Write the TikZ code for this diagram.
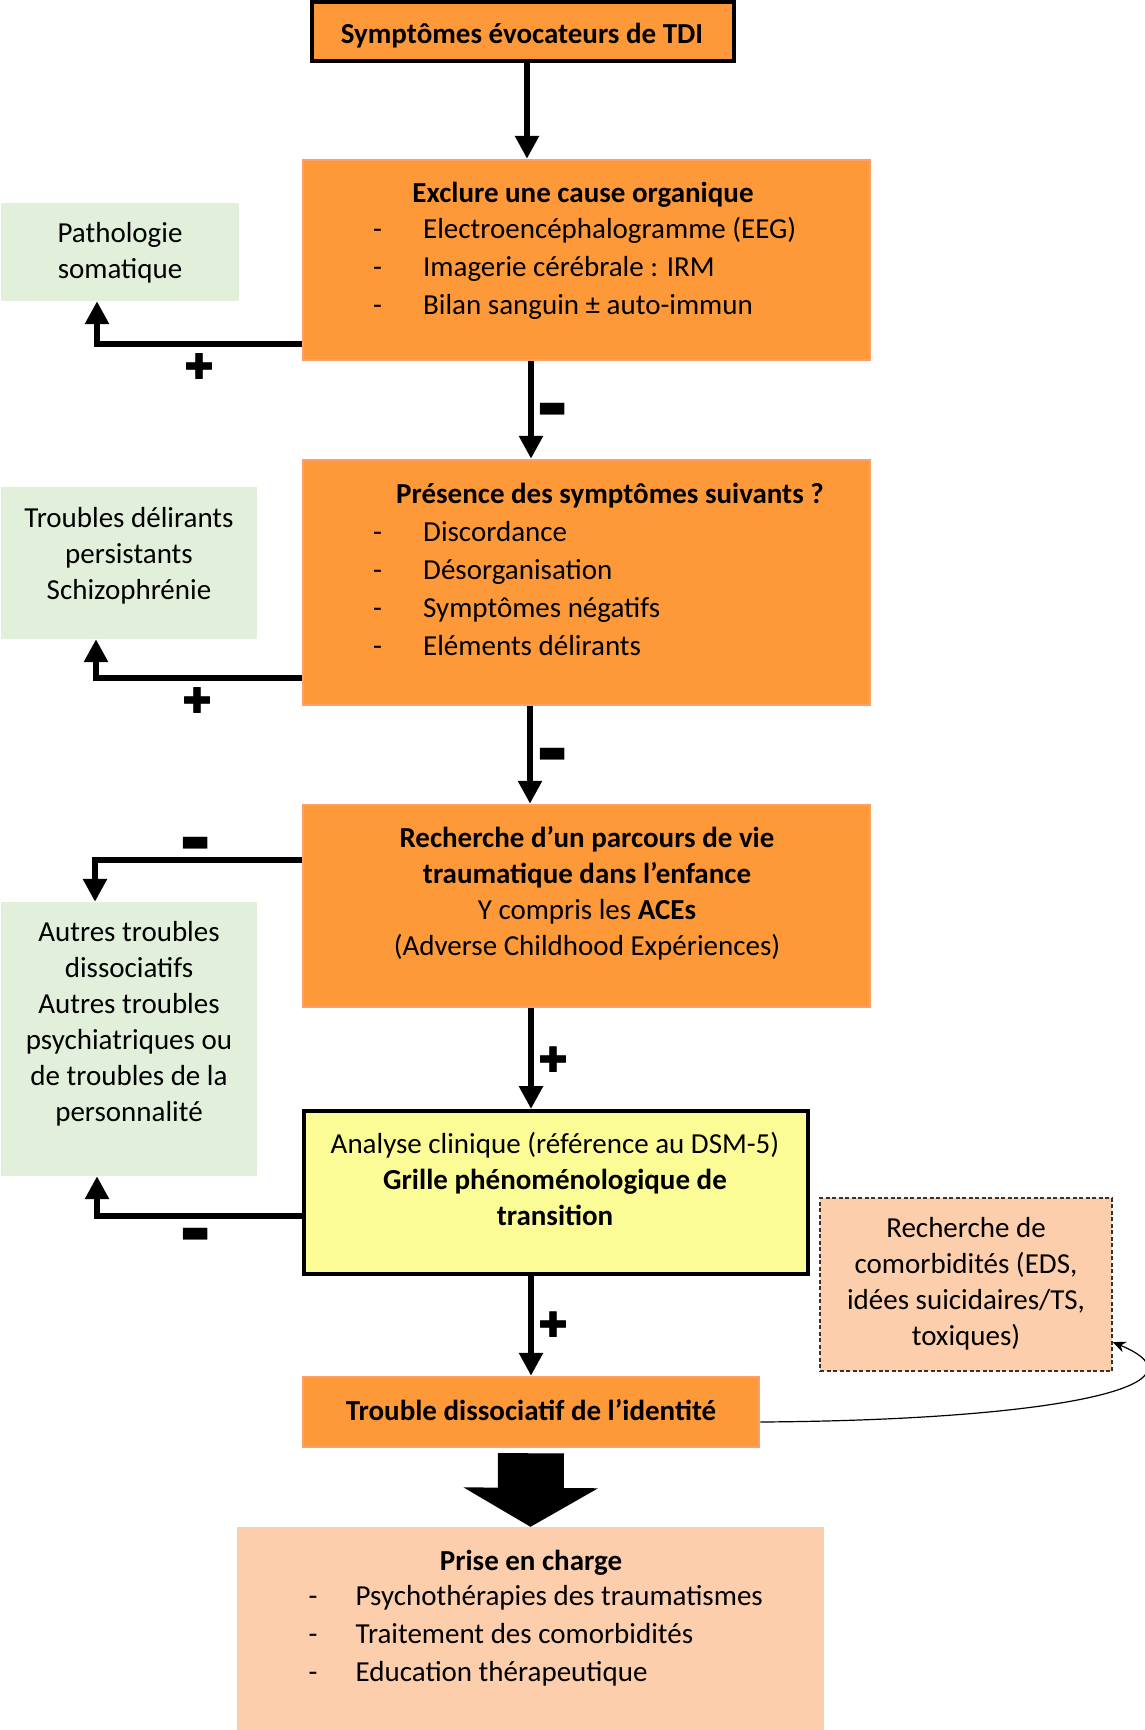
\documentclass[tikz,border=0pt]{standalone}
\usepackage{fontspec}
\setmainfont{Carlito}
\newfontfamily\djv{DejaVu Sans}
\newfontfamily\djvb[FakeBold=2.2]{DejaVu Sans}
\usetikzlibrary{arrows.meta}
\definecolor{orfill}{RGB}{253,153,57}
\definecolor{orline}{RGB}{250,160,110}
\definecolor{grfill}{RGB}{226,239,218}
\definecolor{pefill}{RGB}{252,206,171}
\definecolor{yefill}{RGB}{252,252,150}
\newcommand{\itm}[1]{\makebox[50pt][l]{-}#1}
\newcommand{\itmb}[1]{\makebox[47pt][l]{-}#1}
\tikzset{
  box/.style={rectangle, inner sep=0pt},
  orbox/.style={box, fill=orfill, draw=orline, line width=2.5pt},
  grbox/.style={box, fill=grfill},
  txt/.style={inner sep=0pt, align=center, font=\fontsize{29}{36}\selectfont},
  btxt/.style={inner sep=0pt, align=center, font=\bfseries\fontsize{29}{36}\selectfont},
  ltxt/.style={inner sep=0pt, align=left, font=\fontsize{29}{38}\selectfont},
  arr/.style={line width=6pt, -{Triangle[length=23pt,width=23pt]}},
  plussgn/.style={inner sep=0pt, font=\djvb\fontsize{34}{34}\selectfont},
  minussgn/.style={inner sep=0pt, font=\djv\fontsize{32}{32}\selectfont},
}
\begin{document}
\begin{tikzpicture}[x=1pt,y=-1pt]
\useasboundingbox (0,0) rectangle (1144,1730);
\fill[white] (0,0) rectangle (1144,1730);
% boxes
\node[box, fill=orfill, draw=black, line width=4pt, minimum width=422pt, minimum height=59pt] (top) at (523,31.5) {};
\node[orbox, minimum width=567pt, minimum height=200pt] (exc) at (586.5,260) {};
\node[grbox, minimum width=238pt, minimum height=98pt] (path) at (120,252) {};
\node[orbox, minimum width=567pt, minimum height=245pt] (pres) at (586.5,582.5) {};
\node[grbox, minimum width=256pt, minimum height=152pt] (trd) at (129,563) {};
\node[orbox, minimum width=567pt, minimum height=202pt] (rech) at (586.5,906) {};
\node[grbox, minimum width=256pt, minimum height=274pt] (autres) at (129,1039) {};
\node[box, fill=yefill, draw=black, line width=4pt, minimum width=504pt, minimum height=163pt] (ana) at (556,1192.5) {};
\node[orbox, minimum width=456pt, minimum height=70pt] (tdi) at (531,1412) {};
\node[box, fill=pefill, draw=black!80, line width=1.3pt, dash pattern=on 4pt off 2.5pt, minimum width=292pt, minimum height=173pt] (como) at (966,1284.5) {};
\node[box, fill=pefill, minimum width=587pt, minimum height=203pt] (pec) at (530.5,1628.5) {};
% texts
\node[btxt] (ttop) at (522,35.5) {Symptômes évocateurs de TDI};
\node[btxt] (texc) at (583,194.5) {Exclure une cause organique};
\node[ltxt, anchor=west] (lexc) at (373,268) {\itm{Electroencéphalogramme (EEG)}\\\itm{Imagerie cérébrale : IRM}\\\itm{Bilan sanguin ± auto-immun}};
\node[txt] (tpath) at (120,252.5) {Pathologie\\somatique};
\node[btxt] (tpres) at (610,495.5) {Présence des symptômes suivants ?};
\node[ltxt, anchor=west] (lpres) at (373,589) {\itm{Discordance}\\\itm{Désorganisation}\\\itm{Symptômes négatifs}\\\itm{Eléments délirants}};
\node[txt] (ttrd) at (129,555.5) {Troubles délirants\\persistants\\Schizophrénie};
\node[txt] (trech) at (587,893.5) {\textbf{Recherche d’un parcours de vie}\\\textbf{traumatique dans l’enfance}\\Y compris les \textbf{ACEs}\\(Adverse Childhood Expériences)};
\node[txt] (tautres) at (129,1023.5) {Autres troubles\\dissociatifs\\Autres troubles\\psychiatriques ou\\de troubles de la\\personnalité};
\node[txt] (tana) at (555,1178.5) {Analyse clinique (référence au DSM-5)\\\textbf{Grille phénoménologique de}\\\textbf{transition}};
\node[btxt] (ttdi) at (531,1410.5) {Trouble dissociatif de l’identité};
\node[txt] (tcomo) at (966,1283.5) {Recherche de\\comorbidités (EDS,\\idées suicidaires/TS,\\toxiques)};
\node[btxt] (tpec) at (531,1562.5) {Prise en charge};
\node[ltxt, anchor=west] (lpec) at (308.5,1636) {\itmb{Psychothérapies des traumatismes}\\\itmb{Traitement des comorbidités}\\\itmb{Education thérapeutique}};
% coordinates
\coordinate (x1) at (527,0);
\coordinate (x2) at (531,0);
\coordinate (x3) at (530,0);
\coordinate (e1) at (97,344);
\coordinate (e2) at (96,678);
\coordinate (e3) at (95,860);
\coordinate (e4) at (97,1216);
\coordinate (cs) at (0,1422);
\coordinate (ce) at (0,1342);
% vertical arrows
\draw[arr] (top.south -| x1) -- (exc.north -| x1);
\draw[arr] (exc.south -| x2) -- (pres.north -| x2);
\draw[arr] (pres.south -| x3) -- (rech.north -| x3);
\draw[arr] (rech.south -| x2) -- (ana.north -| x2);
\draw[arr] (ana.south -| x2) -- (tdi.north -| x2);
% elbow arrows
\draw[arr] (exc.west |- e1) -| (path.south -| e1);
\draw[arr] (pres.west |- e2) -| (trd.south -| e2);
\draw[arr] (rech.west |- e3) -| (autres.north -| e3);
\draw[arr] (ana.west |- e4) -| (autres.south -| e4);
% big arrow
\draw[line width=66pt, -{Triangle[length=39pt,width=133pt]}] ([yshift=-5pt]tdi.south) -- (pec.north);
% curved arrow
\draw[line width=1.2pt, -{Stealth[length=13pt,width=11pt]}] (tdi.east |- cs) .. controls (1060,1420) and (1215,1385) .. (como.east |- ce);
% signs
\node[plussgn] (s1) at (199,366) {✚};
\node[minussgn] (s2) at (553,410) {▬};
\node[plussgn] (s3) at (197,700) {✚};
\node[minussgn] (s4) at (553,755) {▬};
\node[minussgn] (s5) at (196,844) {▬};
\node[plussgn] (s6) at (553,1059) {✚};
\node[minussgn] (s7) at (196,1235) {▬};
\node[plussgn] (s8) at (553,1324) {✚};
\end{tikzpicture}
\end{document}
